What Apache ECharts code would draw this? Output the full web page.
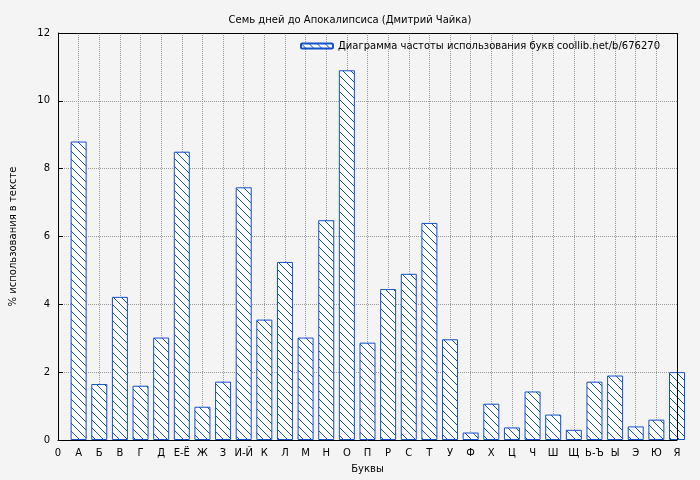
<!DOCTYPE html>
<html>
<head>
<meta charset="UTF-8">
<script src="https://cdn.jsdelivr.net/npm/echarts@6/dist/echarts.min.js"></script>
<style>body{margin:0;background:#f4f4f4}</style>
</head>
<body>
<div id="main" style="width:700px;height:480px"></div>
<script>
const letters = ['0','А','Б','В','Г','Д','Е-Ё','Ж','З','И-Й','К','Л','М','Н','О','П','Р','С','Т','У','Ф','Х','Ц','Ч','Ш','Щ','Ь-Ъ','Ы','Э','Ю','Я'];
const values = [8.8,1.65,4.22,1.6,3.02,8.5,0.98,1.72,7.45,3.55,5.25,3.02,6.48,10.9,2.87,4.45,4.9,6.4,2.97,0.22,1.07,0.37,1.43,0.75,0.3,1.72,1.9,0.4,0.6,2.0];

// hatch pattern
const pc = document.createElement('canvas');
pc.width = 8; pc.height = 8;
const g = pc.getContext('2d');
g.fillStyle = '#fff'; g.fillRect(0,0,8,8);
g.strokeStyle = '#1450c8'; g.lineWidth = 1;
g.beginPath();
g.moveTo(0,0); g.lineTo(8,8);
g.moveTo(-4,4); g.lineTo(4,12);
g.moveTo(4,-4); g.lineTo(12,4);
g.stroke();

const chart = echarts.init(document.getElementById('main'));
const frame = {show:true, lineStyle:{color:'#000'}};
const grid = {show:true, lineStyle:{color:'#999', type:'dotted'}};
chart.setOption({
  backgroundColor:'#f4f4f4',
  textStyle:{fontFamily:'DejaVu Sans'},
  title:{text:'Семь дней до Апокалипсиса (Дмитрий Чайка)', left:'center', top:10,
    textStyle:{fontSize:10, fontWeight:'normal', color:'#000'}},
  legend:{right:35, top:36, itemWidth:32, itemHeight:5,
    textStyle:{fontSize:10, color:'#000'}, data:['Диаграмма частоты использования букв coollib.net/b/676270']},
  grid:{left:53, right:23, top:33, bottom:40},
  xAxis:{type:'value', min:0, max:30, interval:1, name:'Буквы', nameLocation:'middle', nameGap:24,
    nameTextStyle:{fontSize:10,color:'#000'},
    axisLine:frame, axisTick:{inside:true, lineStyle:{color:'#000'}},
    axisLabel:{color:'#000', fontSize:10, formatter:v=>letters[v]||''},
    splitLine:grid},
  yAxis:{type:'value', min:0, max:12, interval:2, name:'% использования в тексте', nameLocation:'middle', nameGap:40,
    nameTextStyle:{fontSize:10,color:'#000'},
    axisLine:frame, axisTick:{inside:true, lineStyle:{color:'#000'}},
    axisLabel:{color:'#000', fontSize:10}, splitLine:grid},
  series:[
    {type:'bar', name:'Диаграмма частоты использования букв coollib.net/b/676270', barWidth:16,
     itemStyle:{color:{image:pc, repeat:'repeat'}, borderColor:'#1450c8', borderWidth:1},
     data:values.map((v,i)=>[i+1,v])},
    {type:'line', xAxisIndex:0, data:[], markLine:{silent:true, symbol:'none', label:{show:false},
     lineStyle:{color:'#000', type:'solid', width:1}, data:[{xAxis:30},{yAxis:12}]}}
  ]
});
</script>
</body>
</html>
